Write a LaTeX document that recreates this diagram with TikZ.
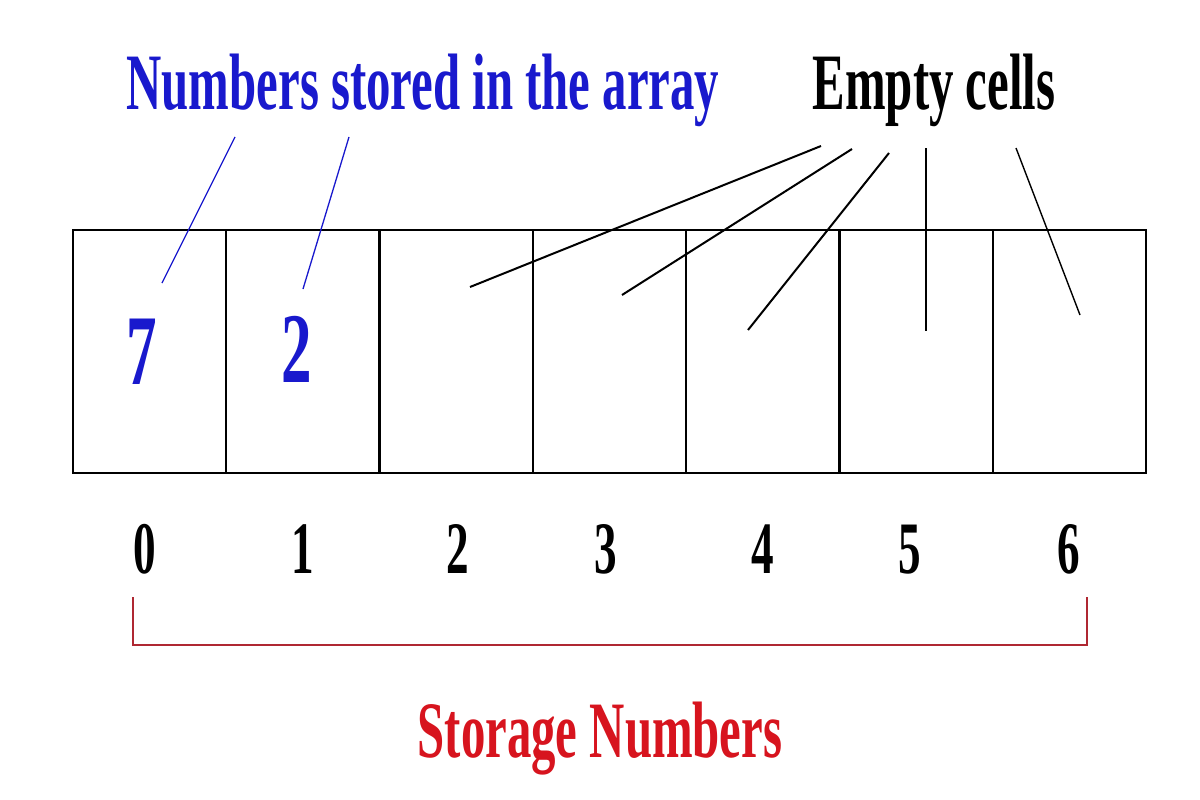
\documentclass[tikz,border=0pt]{standalone}
\usepackage{fontspec}
\newfontfamily\cond[FakeStretch=0.61]{Liberation Serif}
\definecolor{numblue}{RGB}{25,25,205}
\definecolor{storred}{RGB}{215,20,30}
\definecolor{brackred}{RGB}{175,40,50}
\begin{document}
\begin{tikzpicture}[x=1pt,y=-1pt,
  lbl/.style={inner sep=0pt,anchor=base,font=\cond\bfseries\fontsize{80}{96}\selectfont},
  idx/.style={inner sep=0pt,anchor=base,font=\cond\bfseries\fontsize{74}{90}\selectfont},
  val/.style={inner sep=0pt,anchor=base,text=numblue,font=\cond\bfseries\fontsize{100}{120}\selectfont},
  cell/.style={draw=black,line width=2.4pt,minimum width=153.29pt,minimum height=243pt,inner sep=0pt},
  blueline/.style={draw=numblue,line width=1.3pt},
  blackline/.style={draw=black,line width=2pt},
  bracket/.style={draw=brackred,line width=2.2pt}]
\useasboundingbox[fill=white] (0,0) rectangle (1200,800);
% cells
\foreach \i in {0,...,6} {
  \node[cell] (c\i) at ({73+153.29*(\i+0.5)},351.5) {};
}
% labels
\node[lbl,text=numblue] (numlbl) at (423,110) {Numbers stored in the array};
\node[lbl,text=black] (emptylbl) at (934,110) {Empty cells};
\node[lbl,text=storred] (storlbl) at (600,757) {Storage Numbers};
% stored values
\node[val] (v0) at (142,384) {7};
\node[val] (v1) at (297,382) {2};
% indices
\foreach \i/\x in {0/145,1/303,2/458,3/606,4/763,5/910,6/1069} {
  \node[idx] (i\i) at (\x,573) {\i};
}
% blue leader lines
\coordinate (b0s) at (235,137); \coordinate (b0e) at (162,283);
\coordinate (b1s) at (349,137); \coordinate (b1e) at (303,289);
\draw[blueline] (b0s) -- (b0e);
\draw[blueline] (b1s) -- (b1e);
% black leader lines
\coordinate (e2s) at (821,146); \coordinate (e2e) at (470,287);
\coordinate (e3s) at (852,149); \coordinate (e3e) at (622,295);
\coordinate (e4s) at (889,153); \coordinate (e4e) at (748,330);
\coordinate (e5s) at (926,148); \coordinate (e5e) at (926,331);
\coordinate (e6s) at (1016,148); \coordinate (e6e) at (1080,315);
\draw[blackline] (e2s) -- (e2e);
\draw[blackline] (e3s) -- (e3e);
\draw[blackline] (e4s) -- (e4e);
\draw[blackline,line width=1.6pt] (e5s) -- (e5e);
\draw[blackline,line width=1.4pt] (e6s) -- (e6e);
% bracket
\coordinate (brl) at (133,597);
\coordinate (brr) at (1087,597);
\draw[bracket] (brl) -- ++(0,48) -| (brr);
\end{tikzpicture}
\end{document}
